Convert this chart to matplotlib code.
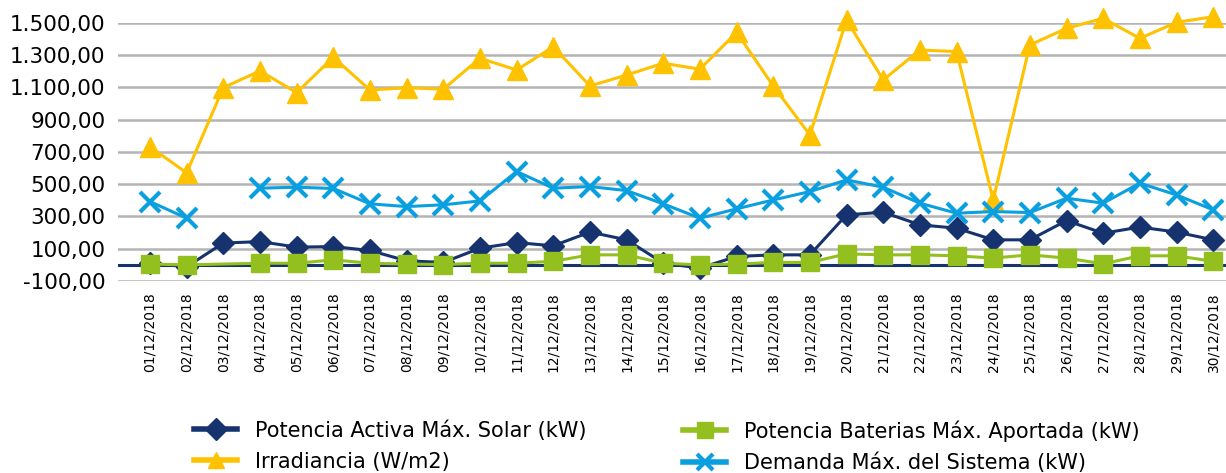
import matplotlib
matplotlib.use("Agg")
import matplotlib.pyplot as plt
import numpy as np
from matplotlib.lines import Line2D
from matplotlib.ticker import FuncFormatter

fechas = ["%02d/12/2018" % d for d in range(1, 31)]

solar = [10, -12, 135, 144, 110, 113, 89, 25, 15, 103, 138, 118, 203, 155, 11,
         -20, 52, 62, 62, 310, 326, 248, 227, 155, 155, 274, 196, 234, 203, 155]
baterias = [5, 0, np.nan, 10, 10, 31, 10, 5, 2, 10, 10, 22, 62, 62, 10,
            0, 5, 15, 15, 68, 62, 62, 56, 42, 62, 42, 6, 56, 56, 22]
irradiancia = [731, 570, 1098, 1201, 1067, 1286, 1083, 1097, 1088, 1280, 1207, 1351, 1108, 1176, 1249,
               1212, 1440, 1108, 805, 1517, 1145, 1331, 1321, 402, 1362, 1465, 1527, 1403, 1502, 1537]
demanda = [392, 289, np.nan, 475, 481, 473, 378, 361, 372, 396, 578, 475, 485, 460, 378,
           289, 347, 402, 454, 526, 481, 382, 320, 330, 324, 413, 382, 506, 433, 341]

c_solar = "#17336f"
c_bat = "#93c01f"
c_irr = "#fec200"
c_dem = "#0aa0e0"


def es_fmt(v, pos):
    s = "{:,.2f}".format(v)
    return s.replace(",", "X").replace(".", ",").replace("X", ".")


fig = plt.figure(figsize=(12.26, 4.73), dpi=100)
ax = fig.add_axes([118 / 1226, 1 - 281 / 473, 1108 / 1226, (281 - 22.7) / 473])

x = np.arange(len(fechas))

ax.axhline(0, color=c_solar, lw=2.2, zorder=2)

ax.plot(x, solar, color=c_solar, lw=2.2, marker="D", ms=11, zorder=3, clip_on=False)
bat = np.array(baterias, dtype=float)
ok = ~np.isnan(bat)
ax.plot(x[ok], bat[ok], color=c_bat, lw=2.2, marker="s", ms=13, zorder=4, clip_on=False)
ax.plot(x, irradiancia, color=c_irr, lw=2.2, marker="^", ms=14, zorder=5, clip_on=False)
ax.plot(x, demanda, color=c_dem, lw=2.2, marker="x", ms=14, mew=3, zorder=6, clip_on=False)

ax.set_xlim(-0.873, 29.35)
ax.set_ylim(-100, 1500)
ax.set_yticks(np.arange(-100, 1501, 200))
ax.yaxis.set_major_formatter(FuncFormatter(es_fmt))
ax.set_xticks(x)
ax.set_xticklabels(fechas, rotation=90, fontsize=10)
ax.tick_params(axis="y", labelsize=15.5, length=0, pad=9)
ax.tick_params(axis="x", length=0, pad=8)
ax.grid(axis="y", color="#b4b4b4", lw=1.8, zorder=0)
ax.set_axisbelow(True)
for s in ax.spines.values():
    s.set_visible(False)

# legend handles: thicker line, slightly smaller markers, as in the original
h_solar = Line2D([], [], color=c_solar, lw=4, marker="D", ms=11)
h_bat = Line2D([], [], color=c_bat, lw=4, marker="s", ms=12)
h_irr = Line2D([], [], color=c_irr, lw=4, marker="^", ms=12)
h_dem = Line2D([], [], color=c_dem, lw=4, marker="x", ms=12, mew=3)

kw = dict(loc="upper left", frameon=False, fontsize=15, handlelength=2.07, handletextpad=0.87,
          labelspacing=0.54, borderpad=0, borderaxespad=0)
fig.legend([h_solar, h_irr], ["Potencia Activa Máx. Solar (kW)", "Irradiancia (W/m2)"],
           bbox_to_anchor=(194 / 1226, 1 - 420 / 473), **kw)
fig.legend([h_bat, h_dem], ["Potencia Baterias Máx. Aportada (kW)", "Demanda Máx. del Sistema (kW)"],
           bbox_to_anchor=(683 / 1226, 1 - 420 / 473), **kw)

fig.savefig("out.png", dpi=100)
